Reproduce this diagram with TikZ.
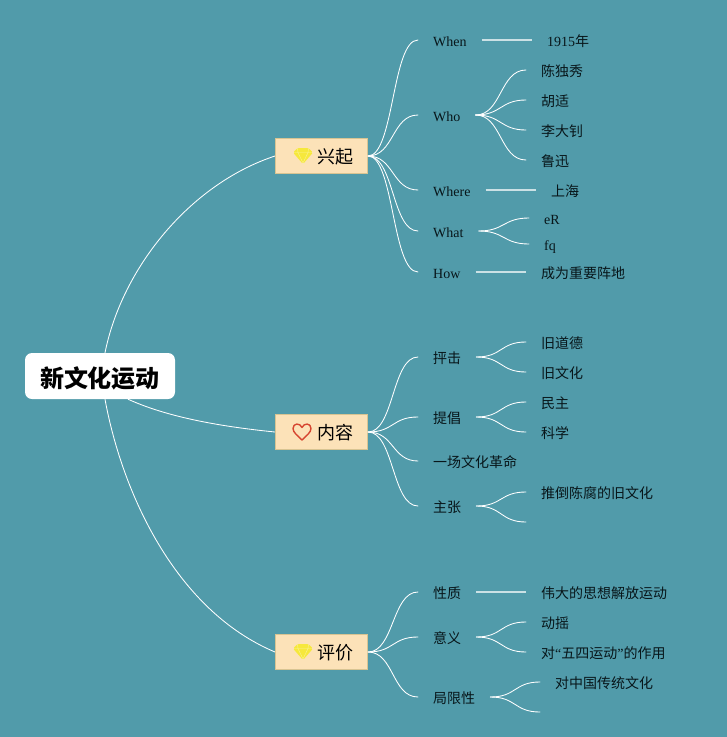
\documentclass[tikz,border=0pt]{standalone}
\usepackage{fontspec}
\setmainfont{Liberation Serif}
\newfontfamily\cjk{Noto Sans CJK SC}
\usetikzlibrary{backgrounds}
\definecolor{mapteal}{RGB}{81,155,170}
\definecolor{topicfill}{RGB}{252,226,184}
\definecolor{topicedge}{RGB}{216,196,146}
\definecolor{gemyellow}{RGB}{246,232,60}
\definecolor{heartred}{RGB}{214,70,48}
\definecolor{inkdark}{RGB}{8,22,26}
\tikzset{
  rootbox/.style={rectangle, rounded corners=7pt, fill=white, minimum width=150pt,
                  minimum height=46pt, inner sep=0pt, text height=23pt, text depth=1pt,
                  font=\cjk\fontsize{24}{28}\selectfont\bfseries},
  topicbox/.style={rectangle, draw=topicedge, fill=topicfill, line width=0.7pt,
                   minimum width=92.3pt, minimum height=34.5pt, inner xsep=14.6pt, inner ysep=0pt,
                   text width=63pt, align=right, text=black, text height=16pt, text depth=0.4pt,
                   font=\cjk\fontsize{18}{22}\selectfont},
  leaf/.style={anchor=west, inner xsep=15pt, inner ysep=0pt, text=inkdark,
               text height=14pt, text depth=1.4pt, font=\fontsize{14}{16}\selectfont},
  cjkleaf/.style={leaf, font=\cjk\fontsize{14}{16}\selectfont},
  mbranch/.style={white, line width=0.85pt, line cap=round, out=0, in=180, distance=26pt},
  mroot/.style={white, line width=0.85pt},
  mstraight/.style={white!70!mapteal, line width=1.3pt},
  gem/.pic={
    \fill[gemyellow, rounded corners=1.5pt] (-10,-3.5) -- (-5.5,-8) -- (5.5,-8) -- (10,-3.5) -- (0,8) -- cycle;
    \draw[gemyellow!55!white, line width=0.4pt] (-9,-3.5) -- (9,-3.5)
      (-5,-3.5) -- (0,7) -- (5,-3.5) (-5.5,-7.5) -- (-5,-3.5) (5.5,-7.5) -- (5,-3.5);
  },
  heart/.pic={
    \draw[heartred, line width=1.4pt, line join=round]
      (0,8) .. controls (-4,4) and (-9,0.5) .. (-9,-3.5)
      .. controls (-9,-9) and (-2,-9.5) .. (0,-4.5)
      .. controls (2,-9.5) and (9,-9) .. (9,-3.5)
      .. controls (9,0.5) and (4,4) .. (0,8) -- cycle;
  },
}
\begin{document}
\begin{tikzpicture}[x=1pt, y=-1pt]
  \useasboundingbox (0,0) rectangle (727,737);

  \node[rootbox] (root) at (100,376) {新文化运动};

  % ---- topic 1 ----
  \node[topicbox] (rise) at (321.5,156) {兴起};
  \pic at (303,156) {gem};
  \foreach \name/\y/\txt in {when/40/When, who/115/Who, where/190/Where, what/231/What, how/272/How} {
    \node[leaf] (\name) at (418,\y) {\txt};
    \draw[mbranch] (rise.east) to (\name.west);
  }
  \node[leaf] (year) at (532,40) {1915{\cjk 年}};
  \draw[mstraight] (when.east) -- (year.west);
  \foreach \name/\y/\txt in {chen/70/陈独秀, hu/100/胡适, li/130/李大钊, lu/160/鲁迅} {
    \node[cjkleaf] (\name) at (526,\y) {\txt};
    \draw[mbranch] (who.east) to (\name.west);
  }
  \node[cjkleaf] (shanghai) at (536,190) {上海};
  \draw[mstraight] (where.east) -- (shanghai.west);
  \foreach \name/\y/\txt in {er/218/eR, fq/244/fq} {
    \node[leaf] (\name) at (529,\y) {\txt};
    \draw[mbranch] (what.east) to (\name.west);
  }
  \node[cjkleaf] (base) at (526,272) {成为重要阵地};
  \draw[mstraight] (how.east) -- (base.west);

  % ---- topic 2 ----
  \node[topicbox] (body) at (321.5,432) {内容};
  \pic at (302,432) {heart};
  \foreach \name/\y/\txt in {attack/357/抨击, urge/417/提倡, revo/461/一场文化革命, claim/506/主张} {
    \node[cjkleaf] (\name) at (418,\y) {\txt};
    \draw[mbranch] (body.east) to (\name.west);
  }
  \foreach \name/\y/\txt in {moral/342/旧道德, oldcul/372/旧文化} {
    \node[cjkleaf] (\name) at (526,\y) {\txt};
    \draw[mbranch] (attack.east) to (\name.west);
  }
  \foreach \name/\y/\txt in {demo/402/民主, sci/432/科学} {
    \node[cjkleaf] (\name) at (526,\y) {\txt};
    \draw[mbranch] (urge.east) to (\name.west);
  }
  \node[cjkleaf] (topple) at (526,492) {推倒陈腐的旧文化};
  \coordinate (claimend) at (526,522);
  \draw[mbranch] (claim.east) to (topple.west);
  \draw[mbranch] (claim.east) to (claimend);

  % ---- topic 3 ----
  \node[topicbox] (judge) at (321.5,652) {评价};
  \pic at (303,652) {gem};
  \foreach \name/\y/\txt in {nature/592/性质, sense/637/意义, limit/697/局限性} {
    \node[cjkleaf] (\name) at (418,\y) {\txt};
    \draw[mbranch] (judge.east) to (\name.west);
  }
  \node[cjkleaf] (liberate) at (526,592) {伟大的思想解放运动};
  \draw[mstraight] (nature.east) -- (liberate.west);
  \node[cjkleaf] (shake) at (526,622) {动摇};
  \node[cjkleaf] (mayfourth) at (526,652) {对{\rmfamily “}五四运动{\rmfamily ”}的作用};
  \draw[mbranch] (sense.east) to (shake.west);
  \draw[mbranch] (sense.east) to (mayfourth.west);
  \node[cjkleaf] (tradition) at (540,682) {对中国传统文化};
  \coordinate (limitend) at (540,712);
  \draw[mbranch] (limit.east) to (tradition.west);
  \draw[mbranch] (limit.east) to (limitend);

  % ---- backdrop and the three long curves ----
  \begin{scope}[on background layer]
    \fill[mapteal] (0,0) rectangle (727,737);
    \draw[mroot] ([xshift=5pt]root.north) .. controls (122,268) and (190,184) .. (rise.west);
    \draw[mroot] ([xshift=28pt]root.south) .. controls (165,416) and (215,426) .. (body.west);
    \draw[mroot] ([xshift=5pt]root.south) .. controls (122,492) and (175,610) .. (judge.west);
  \end{scope}
\end{tikzpicture}
\end{document}
